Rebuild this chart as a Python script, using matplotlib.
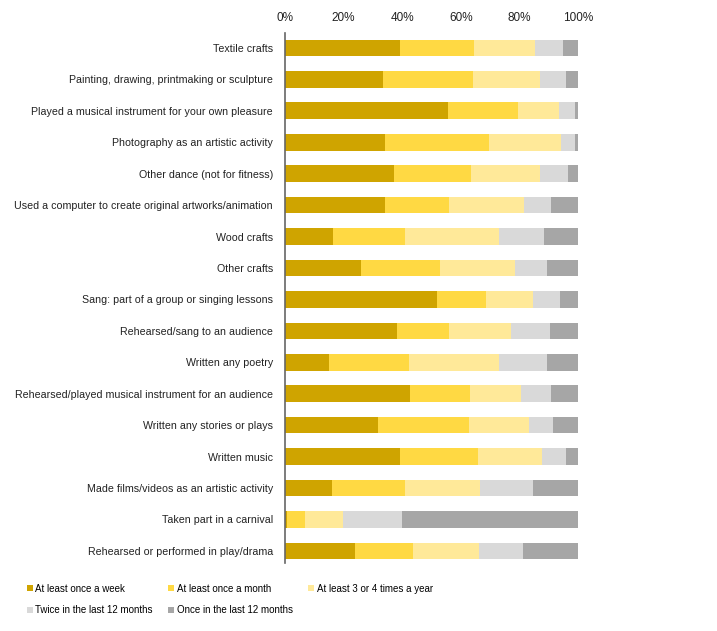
import matplotlib
matplotlib.use("Agg")
import matplotlib.pyplot as plt
import numpy as np

plt.rcParams['font.family'] = ['Liberation Sans', 'DejaVu Sans']

# activities, top to bottom
activities = [
    "Textile crafts",
    "Painting, drawing, printmaking or sculpture",
    "Played a musical instrument for your own pleasure",
    "Photography as an artistic activity",
    "Other dance (not for fitness)",
    "Used a computer to create original artworks/animation",
    "Wood crafts",
    "Other crafts",
    "Sang: part of a group or singing lessons",
    "Rehearsed/sang to an audience",
    "Written any poetry",
    "Rehearsed/played musical instrument for an audience",
    "Written any stories or plays",
    "Written music",
    "Made films/videos as an artistic activity",
    "Taken part in a carnival",
    "Rehearsed or performed in play/drama",
]

# percentages
weekly = [39.3, 33.4, 55.5, 34.2, 37.2, 34.0, 16.5, 25.8, 51.8, 38.3, 14.9, 42.8, 31.6, 39.3, 16.1, 0.7, 23.9]
monthly = [25.2, 30.6, 23.9, 35.6, 26.4, 21.9, 24.3, 27.1, 16.8, 17.8, 27.3, 20.5, 31.3, 26.7, 24.7, 6.1, 19.8]
few_times = [20.8, 23.0, 14.1, 24.3, 23.6, 25.7, 32.4, 25.7, 16.2, 21.0, 31.0, 17.4, 20.3, 21.8, 25.9, 13.0, 22.4]
twice = [9.7, 9.0, 5.4, 4.8, 9.3, 9.3, 15.2, 10.7, 9.0, 13.3, 16.2, 10.2, 8.2, 8.1, 17.9, 20.2, 15.3]
once = [5.0, 4.0, 1.1, 1.1, 3.5, 9.1, 11.6, 10.7, 6.2, 9.6, 10.6, 9.1, 8.6, 4.1, 15.4, 60.0, 18.6]

series_names = [
    "At least once a week",
    "At least once a month",
    "At least 3 or 4 times a year",
    "Twice in the last 12 months",
    "Once in the last 12 months",
]
colors = ["#CFA400", "#FFD943", "#FFE999", "#D9D9D9", "#A6A6A6"]

fig = plt.figure(figsize=(7.17, 6.31), dpi=100)
ax = fig.add_axes([0.3975, 0.108, 0.4086, 0.84])

y = np.arange(len(activities))
left = np.zeros(len(activities))
bars = []
for vals, name, c in zip([weekly, monthly, few_times, twice, once], series_names, colors):
    b = ax.barh(y, vals, left=left, height=0.53, color=c, label=name)
    bars.append(b)
    left += np.array(vals)

ax.set_xlim(0, 100)
ax.set_ylim(16.38, -0.48)
ax.set_yticks(y)
ax.set_yticklabels(activities, fontsize=7.7, color="#222222")
ax.set_xticks(np.arange(0, 101, 20))
ax.set_xticklabels([f"{v}%" for v in range(0, 101, 20)], fontsize=8.5, color="#222222")
ax.xaxis.tick_top()
ax.tick_params(axis="both", length=0)
ax.tick_params(axis="y", pad=8.6)
ax.tick_params(axis="x", pad=6.5)
for s in ["top", "right", "bottom"]:
    ax.spines[s].set_visible(False)
ax.spines["left"].set_color("#666666")
ax.spines["left"].set_linewidth(1.2)

# legend: row 1 = first three, row 2 = last two
order = [0, 3, 1, 4, 2]
fig.legend([bars[i] for i in order], [series_names[i] for i in order],
           ncol=3, loc="upper left", bbox_to_anchor=(0.025, 0.089),
           frameon=False, prop={"size": 7},
           handlelength=0.65, handleheight=0.65,
           handletextpad=0.25, columnspacing=1.55, labelspacing=1.2)

fig.savefig("out.png", dpi=100)
